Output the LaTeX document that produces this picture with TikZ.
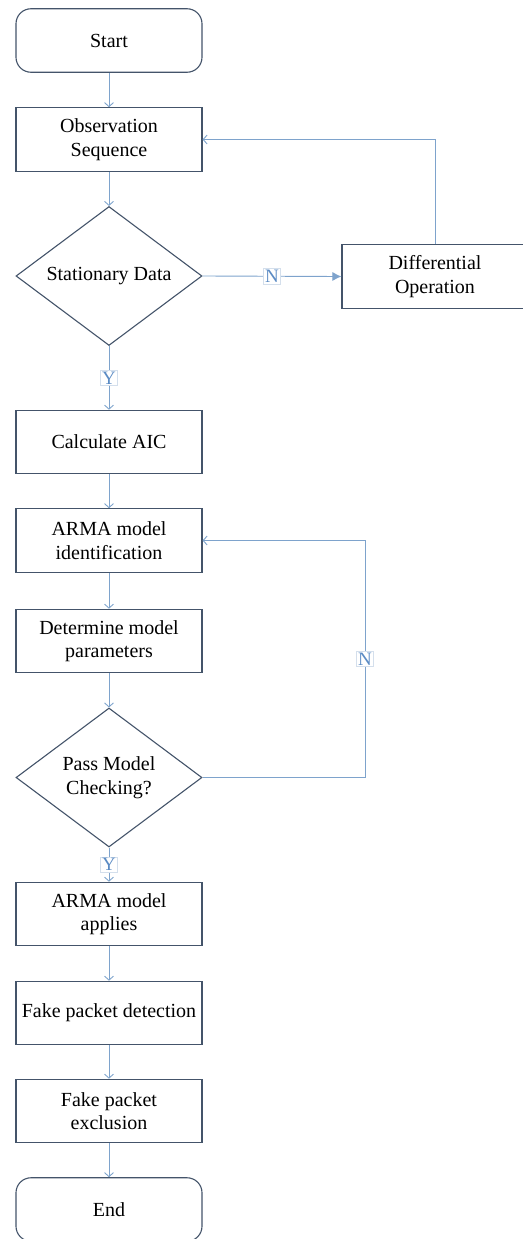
\documentclass[tikz,border=0pt]{standalone}
\usepackage{fontspec}
\setmainfont{Liberation Serif}
\usetikzlibrary{shapes.geometric,arrows.meta}
\definecolor{boxline}{HTML}{44546A}
\definecolor{conn}{HTML}{7EA3CC}
\definecolor{lbltext}{HTML}{5B8BC4}
\definecolor{lblline}{HTML}{D4DFEC}
\tikzset{
  base/.style={draw=boxline, line width=1.1pt, fill=white, inner sep=2pt, align=center,
    font=\fontsize{20}{23.5}\selectfont, text=black},
  procbox/.style={base, rectangle, minimum width=186pt, minimum height=63.5pt},
  termbox/.style={procbox, rounded corners=15pt},
  decbox/.style={base, diamond, shape aspect=1.348, inner sep=0pt, minimum width=186pt, minimum height=139pt},
  flow/.style={draw=conn, line width=0.9pt, -{Straight Barb[length=4pt,width=9pt]}},
  flowfill/.style={draw=conn, line width=0.9pt, -{Latex[length=9pt,width=9pt]}, color=conn},
  lbl/.style={fill=white, draw=lblline, line width=0.5pt, inner sep=1.5pt, text=lbltext,
    font=\fontsize{19}{20}\selectfont}
}
\begin{document}
\begin{tikzpicture}[x=1pt,y=-1pt]
\useasboundingbox (0,0) rectangle (522,1239);
\node[termbox] (start) at (109,40.5) {Start};
\node[procbox] (obs) at (109,139.5) {Observation\\Sequence};
\node[decbox] (stat) at (109,276) {Stationary Data};
\node[procbox] (diff) at (435,276.5) {Differential\\Operation};
\node[procbox] (aic) at (109,442) {Calculate AIC};
\node[procbox] (armaid) at (109,540.5) {ARMA model\\identification};
\node[procbox] (det) at (109,641) {Determine model\\parameters};
\node[decbox] (pass) at (109,777.5) {Pass Model\\Checking?};
\node[procbox] (apply) at (109,914) {ARMA model\\applies};
\node[procbox] (fpd) at (109,1013) {Fake packet detection};
\node[procbox] (fpe) at (109,1111) {Fake packet\\exclusion};
\node[termbox] (end) at (109,1209.5) {End};

\coordinate (c1) at (365,777.5);
\coordinate (c2) at (365,540.5);

\draw[flow] (start) -- (obs);
\draw[flow] (obs) -- (stat);
\draw[flow] (stat.south) -- node[lbl]{Y} (aic.north);
\draw[flowfill] (stat.east) -- node[lbl]{N} (diff.west);
\draw[flow] (diff.north) |- (obs.east);
\draw[flow] (aic) -- (armaid);
\draw[flow] (armaid) -- (det);
\draw[flow] (det) -- (pass.north);
\draw[flow] (pass.south) -- node[lbl]{Y} (apply.north);
\draw[flow] (pass.east) -- (c1) -- node[lbl]{N} (c2) -- (armaid.east);
\draw[flow] (apply) -- (fpd);
\draw[flow] (fpd) -- (fpe);
\draw[flow] (fpe) -- (end);
\end{tikzpicture}
\end{document}
